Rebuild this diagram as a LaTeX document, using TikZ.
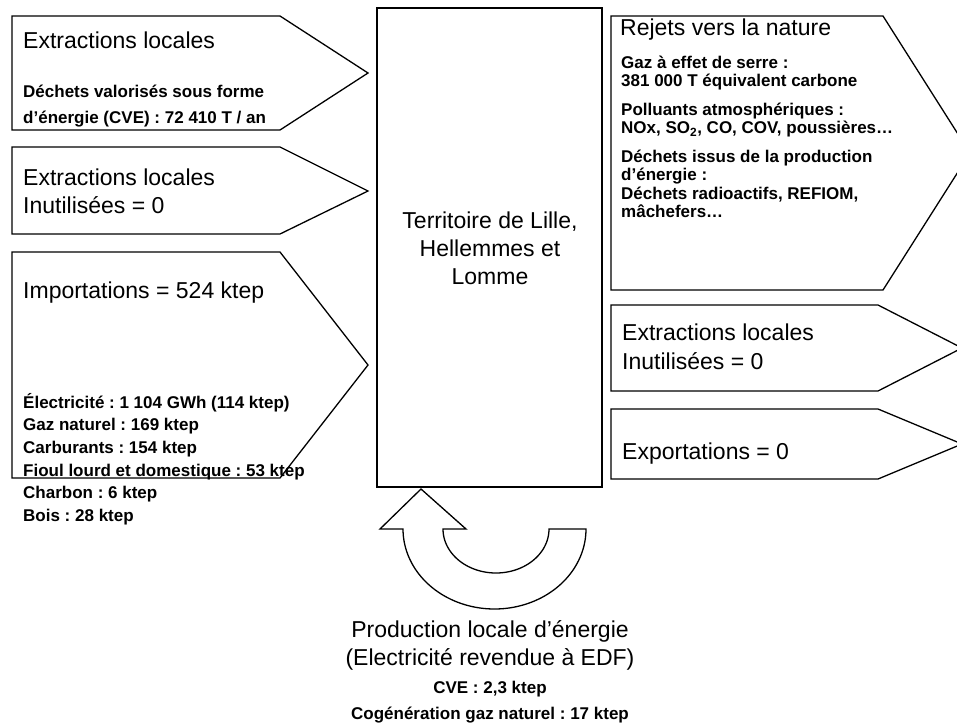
\documentclass[tikz,border=0pt]{standalone}
\usepackage{fontspec}
\setmainfont{Liberation Sans}
\frenchspacing
\begin{document}
\begin{tikzpicture}[x=1pt,y=-1pt,
  outl/.style={draw=black, line width=1.3pt, line join=miter, fill=white},
  ttl/.style={anchor=base west, inner sep=0pt, font=\fontsize{23}{28}\selectfont},
  ttlc/.style={anchor=base, inner sep=0pt, font=\fontsize{23}{28}\selectfont},
  dtl/.style={anchor=base west, inner sep=0pt, font=\fontsize{17}{20}\selectfont\bfseries},
  dtlc/.style={anchor=base, inner sep=0pt, font=\fontsize{17}{20}\selectfont\bfseries}]
\useasboundingbox (0,0) rectangle (957,726);
\begin{scope}
\clip (0,0) rectangle (957,726);
% left arrows
\draw[outl] (12,16) -- (280,16) -- (368,73) -- (280,130) -- (12,130) -- cycle;
\draw[outl] (12,147) -- (280,147) -- (368,191) -- (280,234) -- (12,234) -- cycle;
\draw[outl] (12,252) -- (280,252) -- (368,365) -- (280,478) -- (12,478) -- cycle;
% centre box
\draw[outl] (377,8) rectangle (602,487);
% right arrows
\draw[outl] (611,16) -- (883,16) -- (970,153) -- (883,290) -- (611,290) -- cycle;
\draw[outl] (611,305) -- (878,305) -- (962,348) -- (878,391) -- (611,391) -- cycle;
\draw[outl] (611,409) -- (878,409) -- (962,444) -- (878,479) -- (611,479) -- cycle;
% circular arrow
\draw[outl] (421,489) -- (466,529) -- (443,529)
  -- plot[domain=180:360,samples=60,smooth] ({496+53*cos(\x)},{529-44*sin(\x)})
  -- (586,529)
  -- plot[domain=360:180,samples=80,smooth] ({494.5+91.5*cos(\x)},{529-80*sin(\x)})
  -- (380,529) -- cycle;
\end{scope}
% left arrow 1 texts
\node[ttl] (l1t) at (23,48) {Extractions locales};
\node[dtl] (l1a) at (23,97) {Déchets valorisés sous forme};
\node[dtl] (l1b) at (23,123) {d’énergie (CVE) : 72 410 T / an};
% left arrow 2 texts
\node[ttl] (l2t) at (23,185) {Extractions locales};
\node[ttl] (l2a) at (23,213) {Inutilisées = 0};
% left arrow 3 texts
\node[ttl] (l3t) at (23,298) {Importations = 524 ktep};
\node[dtl] (l3a) at (23,408) {Électricité : 1 104 GWh (114 ktep)};
\node[dtl] (l3b) at (23,430.7) {Gaz naturel : 169 ktep};
\node[dtl] (l3c) at (23,453.4) {Carburants : 154 ktep};
\node[dtl] (l3d) at (23,476) {Fioul lourd et domestique : 53 ktep};
\node[dtl] (l3e) at (23,498.8) {Charbon : 6 ktep};
\node[dtl] (l3f) at (23,521.5) {Bois : 28 ktep};
% centre texts
\node[ttlc] (c1) at (490,228) {Territoire de Lille,};
\node[ttlc] (c2) at (490,256) {Hellemmes et};
\node[ttlc] (c3) at (490,284) {Lomme};
% right arrow 1 texts
\node[ttl] (r1t) at (620,35) {Rejets vers la nature};
\node[dtl] (r1a) at (621,68) {Gaz à effet de serre :};
\node[dtl] (r1b) at (621,86.5) {381 000 T équivalent carbone};
\node[dtl] (r1c) at (621,115) {Polluants atmosphériques :};
\node[dtl] (r1d) at (621,133.5) {NOx, SO\textsubscript{2}, CO, COV, poussières…};
\node[dtl] (r1e) at (621,162) {Déchets issus de la production};
\node[dtl] (r1f) at (621,180.5) {d’énergie :};
\node[dtl] (r1g) at (621,199) {Déchets radioactifs, REFIOM,};
\node[dtl] (r1h) at (621,217.5) {mâchefers…};
% right arrow 2 texts
\node[ttl] (r2t) at (622,340) {Extractions locales};
\node[ttl] (r2a) at (622,369) {Inutilisées = 0};
% right arrow 3 text
\node[ttl] (r3t) at (622,459) {Exportations = 0};
% production texts
\node[ttlc] (p1) at (490,637) {Production locale d’énergie};
\node[ttlc] (p2) at (490,665) {(Electricité revendue à EDF)};
\node[dtlc] (p3) at (490,693) {CVE : 2,3 ktep};
\node[dtlc] (p4) at (490,719) {Cogénération gaz naturel : 17 ktep};
\end{tikzpicture}
\end{document}
